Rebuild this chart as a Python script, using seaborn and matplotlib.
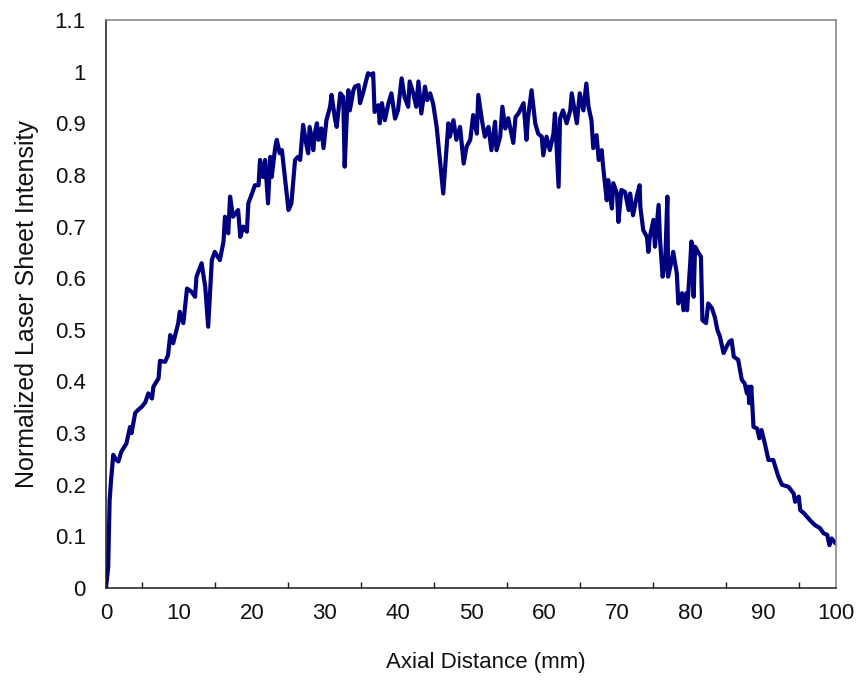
import matplotlib
matplotlib.use("Agg")
import matplotlib.pyplot as plt
from matplotlib.ticker import MultipleLocator
import seaborn as sns
import pandas as pd

# Axial laser-sheet intensity profile (normalized)
axial_mm = [
    0.0, 0.3, 0.5, 0.7, 1.0, 1.3, 1.7, 2.1, 2.8, 3.3, 3.5, 4.0, 4.4, 4.9, 5.4,
    5.8, 6.3, 6.5, 7.2, 7.4, 8.1, 8.5, 8.8, 9.2, 9.9, 10.1, 10.6, 11.1, 11.7,
    12.2, 12.4, 13.1, 13.6, 14.0, 14.5, 14.9, 15.6, 16.1, 16.3, 16.75, 17.0,
    17.4, 18.1, 18.4, 18.8, 19.3, 19.5, 20.0, 20.4, 20.9, 21.1, 21.5, 21.8,
    22.2, 22.5, 22.7, 23.2, 23.4, 23.8, 24.1, 24.5, 25.0, 25.4, 25.9, 26.3,
    26.6, 27.0, 27.5, 27.7, 27.9, 28.4, 28.6, 28.9, 29.1, 29.5, 29.8, 30.2,
    30.7, 30.9, 31.4, 31.6, 32.1, 32.5, 32.7, 33.0, 33.2, 33.4, 33.9, 34.1,
    34.6, 34.8, 35.2, 35.9, 36.4, 36.6, 36.8, 37.3, 37.5, 37.8, 38.2, 38.7,
    39.1, 39.6, 40.0, 40.5, 40.9, 41.4, 41.6, 42.1, 42.5, 42.8, 43.2, 43.7,
    44.0, 44.4, 44.8, 45.3, 45.75, 46.2, 46.4, 46.9, 47.1, 47.6, 48.0, 48.5,
    49.0, 49.4, 49.9, 50.3, 50.8, 51.0, 51.5, 51.9, 52.4, 52.8, 53.3, 53.5,
    54.0, 54.3, 54.7, 55.1, 55.8, 56.1, 56.5, 57.2, 57.6, 57.8, 58.3, 58.8,
    59.2, 59.7, 59.9, 60.35, 60.8, 61.3, 61.5, 62.0, 62.2, 62.6, 63.1, 63.6,
    63.8, 64.2, 64.5, 64.9, 65.4, 65.8, 66.1, 66.5, 66.75, 67.2, 67.5, 67.9,
    68.1, 68.6, 68.8, 69.3, 69.5, 70.0, 70.2, 70.6, 71.1, 71.6, 71.8, 72.2,
    72.7, 73.1, 73.2, 73.6, 74.1, 74.3, 74.5, 75.0, 75.2, 75.7, 75.9, 76.25,
    76.6, 76.9, 77.0, 77.5, 77.7, 78.2, 78.4, 78.9, 79.1, 79.5, 79.6, 80.0,
    80.2, 80.5, 80.7, 81.2, 81.5, 81.7, 82.2, 82.5, 83.0, 83.4, 83.75, 84.1,
    84.6, 85.0, 85.4, 85.7, 86.0, 86.6, 87.1, 87.5, 87.8, 88.0, 88.1, 88.4,
    88.7, 89.2, 89.5, 89.8, 90.3, 90.75, 91.4, 92.1, 92.6, 93.5, 94.2, 94.4,
    94.9, 95.1, 95.6, 96.4, 97.1, 97.8, 98.3, 98.8, 99.1, 99.4, 99.9, 100.0,
]
intensity = [
    0.0, 0.04, 0.17, 0.21, 0.258, 0.25, 0.245, 0.264, 0.28, 0.312, 0.30, 0.339,
    0.345, 0.351, 0.36, 0.377, 0.367, 0.39, 0.406, 0.44, 0.438, 0.451, 0.49,
    0.474, 0.513, 0.535, 0.513, 0.58, 0.574, 0.564, 0.603, 0.629, 0.583, 0.506,
    0.635, 0.651, 0.635, 0.671, 0.719, 0.687, 0.758, 0.719, 0.732, 0.68, 0.70,
    0.69, 0.745, 0.764, 0.78, 0.78, 0.829, 0.796, 0.829, 0.745, 0.835, 0.796,
    0.855, 0.868, 0.842, 0.848, 0.796, 0.732, 0.745, 0.829, 0.835, 0.829, 0.897,
    0.855, 0.842, 0.893, 0.848, 0.881, 0.90, 0.868, 0.89, 0.852, 0.906, 0.932,
    0.955, 0.906, 0.893, 0.958, 0.951, 0.816, 0.919, 0.964, 0.925, 0.964, 0.971,
    0.974, 0.939, 0.958, 0.997, 0.993, 0.997, 0.922, 0.935, 0.90, 0.939, 0.906,
    0.939, 0.958, 0.909, 0.925, 0.987, 0.951, 0.932, 0.981, 0.958, 0.932, 0.981,
    0.919, 0.971, 0.945, 0.958, 0.939, 0.893, 0.829, 0.764, 0.803, 0.90, 0.874,
    0.906, 0.868, 0.893, 0.822, 0.855, 0.868, 0.916, 0.88, 0.955, 0.906, 0.874,
    0.893, 0.848, 0.903, 0.848, 0.874, 0.932, 0.89, 0.91, 0.862, 0.912, 0.919,
    0.939, 0.868, 0.909, 0.964, 0.90, 0.88, 0.874, 0.838, 0.874, 0.848, 0.88,
    0.919, 0.777, 0.909, 0.925, 0.90, 0.925, 0.958, 0.925, 0.90, 0.958, 0.925,
    0.977, 0.932, 0.906, 0.852, 0.877, 0.829, 0.848, 0.816, 0.751, 0.79, 0.735,
    0.784, 0.764, 0.709, 0.771, 0.767, 0.732, 0.764, 0.722, 0.758, 0.78, 0.738,
    0.693, 0.68, 0.651, 0.68, 0.713, 0.661, 0.742, 0.674, 0.603, 0.629, 0.758,
    0.603, 0.635, 0.651, 0.609, 0.551, 0.571, 0.538, 0.571, 0.538, 0.622, 0.671,
    0.564, 0.661, 0.648, 0.642, 0.519, 0.513, 0.551, 0.542, 0.525, 0.50, 0.487,
    0.455, 0.467, 0.477, 0.48, 0.448, 0.442, 0.403, 0.396, 0.377, 0.39, 0.358,
    0.39, 0.312, 0.309, 0.29, 0.306, 0.277, 0.248, 0.248, 0.216, 0.20, 0.196,
    0.183, 0.167, 0.177, 0.151, 0.145, 0.132, 0.122, 0.116, 0.106, 0.103, 0.083,
    0.096, 0.087, 0.088,
]

x_ticks = [0, 10, 20, 30, 40, 50, 60, 70, 80, 90, 100]
y_ticks = [0, 0.1, 0.2, 0.3, 0.4, 0.5, 0.6, 0.7, 0.8, 0.9, 1, 1.1]
y_tick_labels = ["0", "0.1", "0.2", "0.3", "0.4", "0.5", "0.6", "0.7", "0.8",
                 "0.9", "1", "1.1"]

sns.set_theme(style="white")
plt.rcParams["font.family"] = ["Liberation Sans", "DejaVu Sans"]

df = pd.DataFrame({"Axial Distance (mm)": axial_mm,
                   "Normalized Laser Sheet Intensity": intensity})

fig = plt.figure(figsize=(8.63, 6.88), dpi=100)
ax = fig.add_axes([0.1228, 0.1453, 0.8459, 0.8256])

sns.lineplot(data=df, x="Axial Distance (mm)", y="Normalized Laser Sheet Intensity",
             sort=False, estimator=None, color="#000080", linewidth=3.0,
             solid_joinstyle="round", ax=ax)

ax.set_xlim(0, 100)
ax.set_ylim(0, 1.1)
ax.set_xticks(x_ticks)
ax.set_xticklabels([str(t) for t in x_ticks])
ax.set_yticks(y_ticks)
ax.set_yticklabels(y_tick_labels)
ax.xaxis.set_minor_locator(MultipleLocator(5))

for side in ("left", "bottom"):
    ax.spines[side].set_color("#1a1a1a")
    ax.spines[side].set_linewidth(1.1)
for side in ("top", "right"):
    ax.spines[side].set_color("#808080")
    ax.spines[side].set_linewidth(1.1)

ax.tick_params(axis="both", which="major", direction="inout", length=10,
               width=1.0, color="#1a1a1a", labelsize=16, labelcolor="#111111")
ax.tick_params(axis="x", which="major", pad=5.5)
ax.tick_params(axis="y", which="major", pad=9.5)
ax.tick_params(axis="x", which="minor", direction="in", length=4.5,
               width=1.0, color="#1a1a1a", bottom=True)

ax.set_xlabel("Axial Distance (mm)", fontsize=16, color="#111111")
ax.xaxis.set_label_coords(0.52, -0.113)
ax.set_ylabel("Normalized Laser Sheet Intensity", fontsize=18, color="#111111",
              labelpad=11)

fig.savefig("out.png", dpi=100, facecolor="white")
